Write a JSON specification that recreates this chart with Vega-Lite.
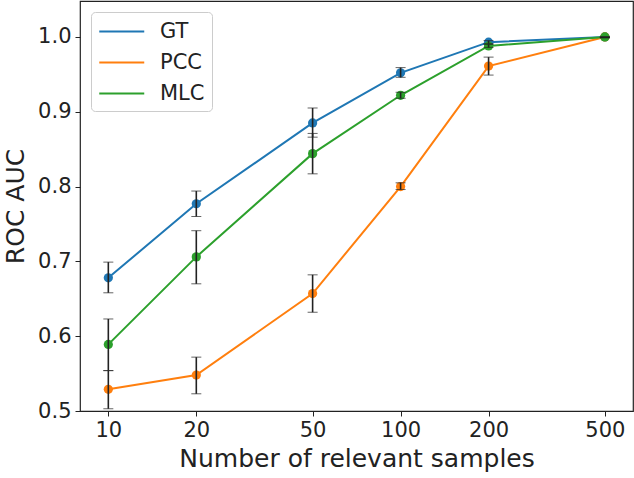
{
  "$schema": "https://vega.github.io/schema/vega-lite/v6.json",
  "width": 553,
  "height": 410,
  "autosize": "none",
  "padding": {"left": 80, "top": 1, "right": 1, "bottom": 67},
  "config": {
    "font": "DejaVu Sans",
    "view": {"stroke": "#222", "strokeWidth": 1.2},
    "axis": {"grid": false, "domain": false, "tickColor": "#222", "tickSize": 5, "labelColor": "#222", "titleColor": "#222", "labelFontSize": 21, "titleFontSize": 25, "titleFontWeight": "normal"}
  },
  "data": {"values": [
    {"n": 10, "method": "GT", "auc": 0.678, "lo": 0.658, "hi": 0.699},
    {"n": 20, "method": "GT", "auc": 0.777, "lo": 0.760, "hi": 0.794},
    {"n": 50, "method": "GT", "auc": 0.885, "lo": 0.866, "hi": 0.905},
    {"n": 100, "method": "GT", "auc": 0.952, "lo": 0.946, "hi": 0.959},
    {"n": 200, "method": "GT", "auc": 0.993, "lo": 0.991, "hi": 0.995},
    {"n": 500, "method": "GT", "auc": 1.0, "lo": 0.999, "hi": 1.0},
    {"n": 10, "method": "PCC", "auc": 0.529, "lo": 0.503, "hi": 0.554},
    {"n": 20, "method": "PCC", "auc": 0.548, "lo": 0.523, "hi": 0.572},
    {"n": 50, "method": "PCC", "auc": 0.657, "lo": 0.632, "hi": 0.682},
    {"n": 100, "method": "PCC", "auc": 0.800, "lo": 0.796, "hi": 0.805},
    {"n": 200, "method": "PCC", "auc": 0.961, "lo": 0.949, "hi": 0.973},
    {"n": 500, "method": "PCC", "auc": 1.0, "lo": 0.999, "hi": 1.0},
    {"n": 10, "method": "MLC", "auc": 0.589, "lo": 0.554, "hi": 0.623},
    {"n": 20, "method": "MLC", "auc": 0.706, "lo": 0.670, "hi": 0.741},
    {"n": 50, "method": "MLC", "auc": 0.844, "lo": 0.817, "hi": 0.871},
    {"n": 100, "method": "MLC", "auc": 0.922, "lo": 0.918, "hi": 0.926},
    {"n": 200, "method": "MLC", "auc": 0.988, "lo": 0.986, "hi": 0.990},
    {"n": 500, "method": "MLC", "auc": 1.0, "lo": 0.999, "hi": 1.0}
  ]},
  "encoding": {
    "x": {"field": "n", "type": "quantitative", "scale": {"type": "log", "domain": [8.0, 624], "nice": false},
          "axis": {"values": [10, 20, 50, 100, 200, 500], "format": "d", "title": "Number of relevant samples", "labelPadding": 3, "titlePadding": 6}}
  },
  "layer": [
    {
      "mark": {"type": "line", "strokeWidth": 2},
      "encoding": {
        "y": {"field": "auc", "type": "quantitative", "title": "ROC AUC", "scale": {"domain": [0.5, 1.048], "nice": false, "zero": false},
              "axis": {"values": [0.5, 0.6, 0.7, 0.8, 0.9, 1.0], "format": ".1f", "labelPadding": 4, "titlePadding": 9}},
        "color": {"field": "method", "type": "nominal", "sort": ["GT", "PCC", "MLC"],
          "scale": {"domain": ["GT", "PCC", "MLC"], "range": ["#1f77b4", "#ff7f0e", "#2ca02c"]},
          "legend": {"title": null, "orient": "none", "legendX": 11, "legendY": 11, "symbolType": "M-1,0H3", "symbolSize": 506, "symbolStrokeWidth": 2, "symbolFillColor": "transparent", "labelFontSize": 21, "labelColor": "#222", "rowPadding": 8, "labelOffset": 37, "fillColor": "white", "strokeColor": "#ccc", "cornerRadius": 4, "padding": 7}}
      }
    },
    {
      "mark": {"type": "point", "filled": true, "size": 85, "opacity": 1},
      "encoding": {
        "y": {"field": "auc", "type": "quantitative", "title": "ROC AUC"},
        "color": {"field": "method", "type": "nominal", "legend": null}
      }
    },
    {
      "mark": {"type": "errorbar", "ticks": {"size": 10, "color": "#222", "strokeWidth": 1.6}, "rule": {"color": "#222", "strokeWidth": 1.6}},
      "encoding": {
        "y": {"field": "lo", "type": "quantitative", "title": "ROC AUC"},
        "y2": {"field": "hi"}
      }
    }
  ]
}
